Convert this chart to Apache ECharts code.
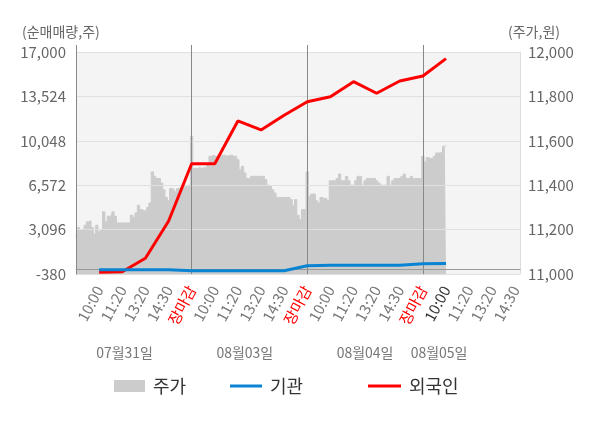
<!DOCTYPE html>
<html><head><meta charset="utf-8">
<script src="https://cdn.jsdelivr.net/npm/echarts@6/dist/echarts.min.js"></script>
<style>html,body{margin:0;padding:0;background:#fff}#c{width:600px;height:428px}</style>
</head><body><div id="c"></div>
<script>
// ---- data ----
const timeLabels = ['10:00','11:20','13:20','14:30','장마감',
                    '10:00','11:20','13:20','14:30','장마감',
                    '10:00','11:20','13:20','14:30','장마감',
                    '10:00','11:20','13:20','14:30'];
const dateLabels = ['07월31일','08월03일','08월04일','08월05일'];
const leftTicks = [-380, 3096, 6572, 10048, 13524, 17000];
const rightTicks = [11000, 11200, 11400, 11600, 11800, 12000];

const priceDay1 = [11165,11210,11200,11200,11220,11235,11240,11210,11180,11220,
  11190,11200,11280,11235,11260,11265,11280,11260,11230,11230,
  11230,11230,11230,11230,11265,11255,11275,11310,11290,11285,
  11285,11300,11320,11460,11440,11430,11430,11410,11380,11345,
  11330,11385,11380,11370,11385,11390,11390,11395,11390,11400];
const priceDay2 = [11620,11475,11475,11480,11475,11480,11475,11490,11530,11535,
  11530,11530,11535,11535,11535,11530,11535,11535,11530,11530,
  11515,11470,11485,11455,11430,11430,11440,11440,11440,11440,
  11440,11440,11425,11400,11395,11380,11365,11345,11345,11345,
  11345,11345,11345,11335,11310,11335,11265,11245,11290,11290];
const priceDay3 = [11460,11350,11360,11360,11330,11320,11345,11340,11340,11330,
  11420,11420,11420,11430,11450,11420,11420,11440,11420,11400,
  11400,11420,11440,11440,11400,11420,11430,11430,11430,11430,
  11420,11410,11400,11400,11400,11440,11400,11420,11430,11430,
  11430,11440,11450,11430,11430,11440,11430,11430,11430,11430];
const priceDay4 = [11530,11505,11525,11520,11520,11530,11545,11545,11550,11575,11580];

// cumulative net buying at each time label (10:00 d1 ... 10:00 d4)
const foreignNet = [-250,-200,850,3750,8250,8250,11600,10900,12050,13100,13500,14680,13770,14730,15120,16480];
const instNet    = [-40,-40,-40,-40,-125,-125,-125,-125,-125,270,300,300,300,300,430,440];

// ---- build ----
const STEP = 10;
const N = timeLabels.length * STEP + 3;
const cats = Array.from({length: N}, (_, i) => String(i));
const price = [].concat(priceDay1, priceDay2, priceDay3, priceDay4);
const toSlots = arr => { const a = new Array(N).fill(null); arr.forEach((v, k) => { a[(k + 1) * STEP] = v; }); return a; };
const splitIdx = [];
timeLabels.forEach((t, k) => { if (t === '장마감') splitIdx.push((k + 1) * STEP); });
const currentK = foreignNet.length - 1;
const dateIdx = [21, 73, 125, 157];
const FONT = 'Noto Sans CJK KR';
const fmt = v => Number(v).toLocaleString('en-US');

const chart = echarts.init(document.getElementById('c'));
chart.setOption({
  animation: false,
  textStyle: {fontFamily: FONT},
  title: [
    {text: '(순매매량,주)', left: 22, top: 25, padding: 0, textStyle: {fontSize: 14, color: '#666', fontWeight: 'normal', fontFamily: FONT}},
    {text: '(주가,원)', left: 508, top: 25, padding: 0, textStyle: {fontSize: 14, color: '#666', fontWeight: 'normal', fontFamily: FONT}}
  ],
  legend: [
    {data: ['주가'], left: 114, top: 376, padding: 0, icon: 'rect', itemWidth: 31, itemHeight: 12,
     textStyle: {fontSize: 18, color: '#333', lineHeight: 20, padding: [0,0,0,3], fontFamily: FONT}},
    {data: ['기관'], left: 230, top: 376, padding: 0, icon: 'rect', itemWidth: 32, itemHeight: 3,
     textStyle: {fontSize: 18, color: '#333', lineHeight: 20, padding: [0,0,0,3], fontFamily: FONT}},
    {data: ['외국인'], left: 368, top: 376, padding: 0, icon: 'rect', itemWidth: 33, itemHeight: 3,
     textStyle: {fontSize: 18, color: '#333', lineHeight: 20, padding: [0,0,0,3], fontFamily: FONT}}
  ],
  grid: {left: 76, right: 80, top: 52, bottom: 154, show: true, backgroundColor: '#f4f4f4', borderWidth: 0},
  xAxis: [
    {type: 'category', data: cats, boundaryGap: false, position: 'bottom', z: 4,
     axisLine: {lineStyle: {color: '#999'}},
     axisTick: {show: true, length: 5, interval: i => i === 0 || splitIdx.includes(i), lineStyle: {color: '#888'}},
     splitLine: {show: true, interval: i => splitIdx.includes(i), lineStyle: {color: '#888', width: 1}},
     axisLabel: {
       interval: i => i > 0 && i % STEP === 0 && i / STEP <= timeLabels.length,
       rotate: 62, margin: 13, fontSize: 15, color: '#777', fontFamily: FONT,
       formatter: (v, i) => {
         const k = i / STEP - 1; const t = timeLabels[k];
         if (t === undefined) return '';
         if (t === '장마감') return '{r|' + t + '}';
         if (k === currentK) return '{d|' + t + '}';
         return t;
       },
       rich: {r: {color: '#ff0000', fontSize: 15, fontFamily: FONT}, d: {color: '#333', fontSize: 15, fontFamily: FONT}}
     }},
    {type: 'category', data: cats, boundaryGap: false, position: 'top',
     axisLine: {show: false},
     axisTick: {show: true, length: 7, interval: i => i === 0 || splitIdx.includes(i), lineStyle: {color: '#888'}},
     axisLabel: {show: false}, splitLine: {show: false}},
    {type: 'category', data: cats, boundaryGap: false, position: 'bottom', offset: 64,
     axisLine: {show: false}, axisTick: {show: false}, splitLine: {show: false},
     axisLabel: {interval: i => dateIdx.includes(i), fontSize: 14, color: '#777', fontFamily: FONT,
       formatter: (v, i) => { const j = dateIdx.indexOf(i); return j >= 0 ? dateLabels[j] : ''; }}}
  ],
  yAxis: [
    {type: 'value', min: leftTicks[0], max: leftTicks[leftTicks.length - 1], interval: leftTicks[1] - leftTicks[0], z: 4,
     axisLine: {show: true, lineStyle: {color: '#888'}}, axisTick: {show: false},
     axisLabel: {fontSize: 15, color: '#666', margin: 10, formatter: fmt, fontFamily: FONT},
     splitLine: {show: true, lineStyle: {color: '#e0e0e0'}}},
    {type: 'value', position: 'right', min: rightTicks[0], max: rightTicks[rightTicks.length - 1], interval: rightTicks[1] - rightTicks[0],
     axisLine: {show: true, lineStyle: {color: '#ddd'}}, axisTick: {show: false},
     axisLabel: {fontSize: 15, color: '#666', margin: 8, formatter: fmt, fontFamily: FONT},
     splitLine: {show: false}}
  ],
  series: [
    {name: '주가', type: 'line', xAxisIndex: 0, yAxisIndex: 1, data: price, step: 'middle', symbol: 'none', silent: true,
     lineStyle: {width: 1, color: '#cccccc'}, itemStyle: {color: '#cccccc'}, areaStyle: {color: '#cccccc', opacity: 1}, z: 2},
    {name: '외국인', type: 'line', xAxisIndex: 0, yAxisIndex: 0, data: toSlots(foreignNet), connectNulls: true, symbol: 'none',
     lineStyle: {width: 3, color: '#ff0000'}, itemStyle: {color: '#ff0000'}, z: 5,
     markLine: {silent: true, symbol: 'none', label: {show: false}, lineStyle: {color: '#999', width: 1, type: 'solid'}, data: [{yAxis: 0}]}},
    {name: '기관', type: 'line', xAxisIndex: 0, yAxisIndex: 0, data: toSlots(instNet), connectNulls: true, symbol: 'none',
     lineStyle: {width: 3, color: '#0a84d2'}, itemStyle: {color: '#0a84d2'}, z: 6}
  ]
});
</script></body></html>
